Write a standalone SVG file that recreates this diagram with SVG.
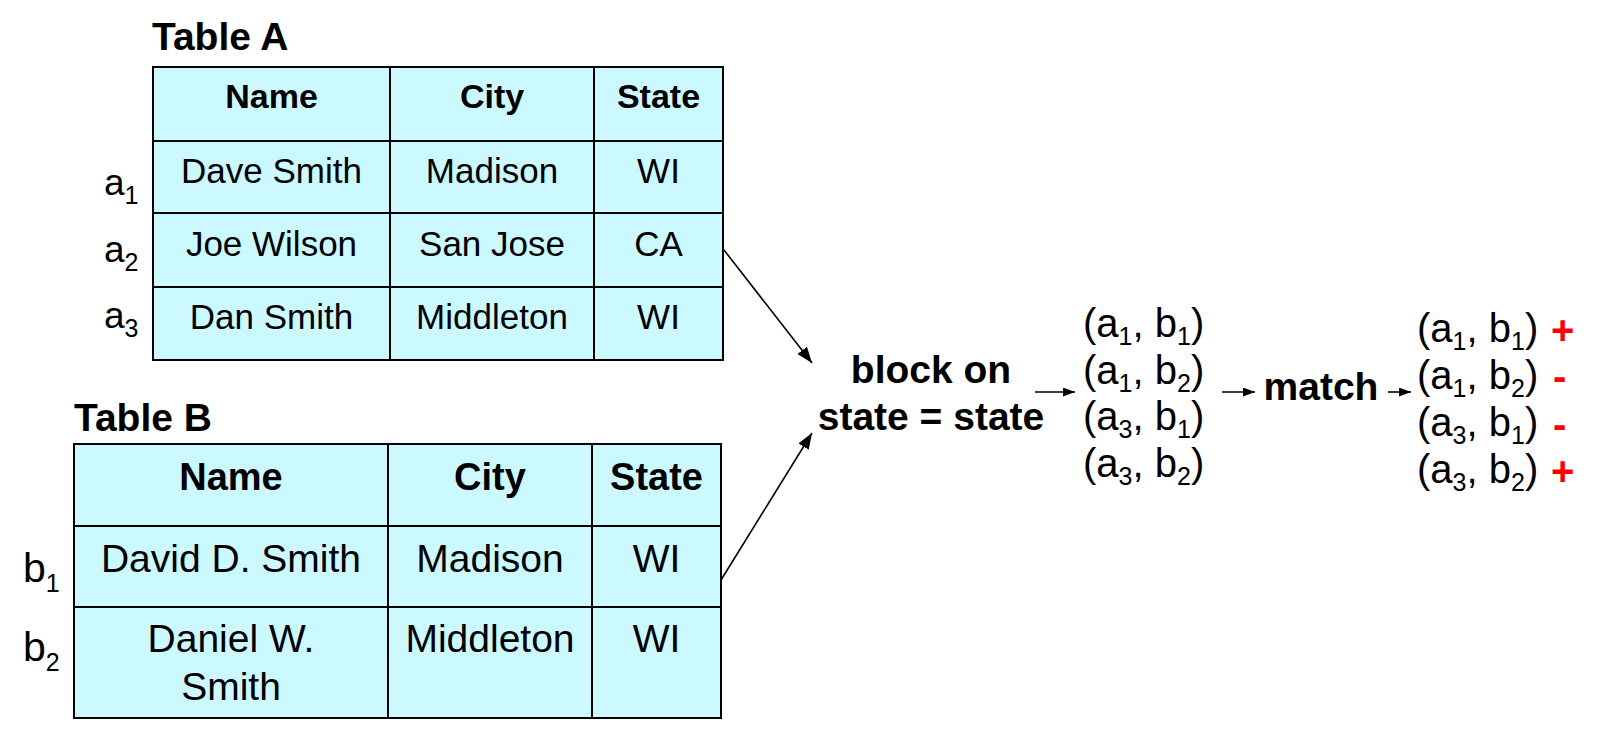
<svg xmlns="http://www.w3.org/2000/svg" width="1600" height="735" viewBox="0 0 1600 735">
<style>
  text { font-family: "Liberation Sans", Arial, sans-serif; fill: #000; }
  .title { font-size: 39px; font-weight: bold; }
  .hdrA { font-size: 34px; font-weight: bold; text-anchor: middle; }
  .cellA { font-size: 35px; text-anchor: middle; }
  .hdrB { font-size: 38px; font-weight: bold; text-anchor: middle; }
  .cellB { font-size: 39px; text-anchor: middle; }
  .lbl { font-size: 37px; }
  .lblB { font-size: 41px; }
  .sub { font-size: 25px; }
  .op { font-size: 39px; font-weight: bold; text-anchor: middle; }
  .pair { font-size: 40px; }
  .sign { font-size: 40px; font-weight: bold; fill: #FF0000; }
  .tbl { fill: #CCF9FF; stroke: #000; stroke-width: 2; }
  .grid { stroke: #000; stroke-width: 2; fill: none; }
  .conn { stroke: #000; stroke-width: 1.6; fill: none; }
</style>
<defs>
  <marker id="ah" markerUnits="userSpaceOnUse" markerWidth="18" markerHeight="14" refX="16" refY="6" orient="auto">
    <path d="M0,0 L16,6 L0,12 Z" fill="#000"/>
  </marker>
  <marker id="ahs" markerUnits="userSpaceOnUse" markerWidth="14" markerHeight="10" refX="12" refY="4.5" orient="auto">
    <path d="M0,0 L12,4.5 L0,9 Z" fill="#000"/>
  </marker>
</defs>

<g id="tableA">
  <text class="title" x="152" y="50">Table A</text>
  <rect class="tbl" x="153" y="67" width="570" height="293"/>
  <path class="grid" d="M153,141 H723 M153,213 H723 M153,287 H723 M390,67 V360 M594,67 V360"/>
  <text class="hdrA" x="271.5" y="108">Name</text>
  <text class="hdrA" x="492" y="108">City</text>
  <text class="hdrA" x="658.5" y="108">State</text>
  <text class="cellA" x="271.5" y="183">Dave Smith</text>
  <text class="cellA" x="492" y="183">Madison</text>
  <text class="cellA" x="658.5" y="183">WI</text>
  <text class="cellA" x="271.5" y="256">Joe Wilson</text>
  <text class="cellA" x="492" y="256">San Jose</text>
  <text class="cellA" x="658.5" y="256">CA</text>
  <text class="cellA" x="271.5" y="329">Dan Smith</text>
  <text class="cellA" x="492" y="329">Middleton</text>
  <text class="cellA" x="658.5" y="329">WI</text>
  <text class="lbl" x="104" y="195">a<tspan class="sub" dy="9">1</tspan></text>
  <text class="lbl" x="104" y="262">a<tspan class="sub" dy="9">2</tspan></text>
  <text class="lbl" x="104" y="328">a<tspan class="sub" dy="9">3</tspan></text>
</g>

<g id="tableB">
  <text class="title" x="74" y="431">Table B</text>
  <rect class="tbl" x="74" y="444" width="647" height="274"/>
  <path class="grid" d="M74,526 H721 M74,607 H721 M388,444 V718 M592,444 V718"/>
  <text class="hdrB" x="231" y="490">Name</text>
  <text class="hdrB" x="490" y="490">City</text>
  <text class="hdrB" x="656.5" y="490">State</text>
  <text class="cellB" x="231" y="572">David D. Smith</text>
  <text class="cellB" x="490" y="572">Madison</text>
  <text class="cellB" x="656.5" y="572">WI</text>
  <text class="cellB" x="231" y="652">Daniel W.</text>
  <text class="cellB" x="231" y="700">Smith</text>
  <text class="cellB" x="490" y="652">Middleton</text>
  <text class="cellB" x="656.5" y="652">WI</text>
  <text class="lblB" x="23" y="582">b<tspan class="sub" dy="10">1</tspan></text>
  <text class="lblB" x="23" y="661">b<tspan class="sub" dy="10">2</tspan></text>
</g>

<g id="block">
  <text class="op" x="931" y="383">block on</text>
  <text class="op" x="931" y="430">state = state</text>
</g>

<g id="candidates">
  <text class="pair" x="1083" y="337">(a<tspan class="sub" dy="8">1</tspan><tspan dy="-8">, b</tspan><tspan class="sub" dy="8">1</tspan><tspan dy="-8">)</tspan></text>
  <text class="pair" x="1083" y="383.5">(a<tspan class="sub" dy="8">1</tspan><tspan dy="-8">, b</tspan><tspan class="sub" dy="8">2</tspan><tspan dy="-8">)</tspan></text>
  <text class="pair" x="1083" y="430">(a<tspan class="sub" dy="8">3</tspan><tspan dy="-8">, b</tspan><tspan class="sub" dy="8">1</tspan><tspan dy="-8">)</tspan></text>
  <text class="pair" x="1083" y="476.5">(a<tspan class="sub" dy="8">3</tspan><tspan dy="-8">, b</tspan><tspan class="sub" dy="8">2</tspan><tspan dy="-8">)</tspan></text>
</g>

<g id="match">
  <text class="op" x="1321" y="400">match</text>
</g>

<g id="results">
  <text class="pair" x="1417" y="342">(a<tspan class="sub" dy="8">1</tspan><tspan dy="-8">, b</tspan><tspan class="sub" dy="8">1</tspan><tspan dy="-8">)</tspan></text>
  <text class="pair" x="1417" y="388.5">(a<tspan class="sub" dy="8">1</tspan><tspan dy="-8">, b</tspan><tspan class="sub" dy="8">2</tspan><tspan dy="-8">)</tspan></text>
  <text class="pair" x="1417" y="436">(a<tspan class="sub" dy="8">3</tspan><tspan dy="-8">, b</tspan><tspan class="sub" dy="8">1</tspan><tspan dy="-8">)</tspan></text>
  <text class="pair" x="1417" y="483">(a<tspan class="sub" dy="8">3</tspan><tspan dy="-8">, b</tspan><tspan class="sub" dy="8">2</tspan><tspan dy="-8">)</tspan></text>
  <text class="sign" x="1551" y="344">+</text>
  <text class="sign" x="1553" y="390">-</text>
  <text class="sign" x="1553" y="438">-</text>
  <text class="sign" x="1551" y="485">+</text>
</g>

<g id="connectors">
  <line class="conn" x1="724" y1="250" x2="812" y2="363" marker-end="url(#ah)"/>
  <line class="conn" x1="721" y1="580" x2="812" y2="433" marker-end="url(#ah)"/>
  <line class="conn" x1="1035" y1="392" x2="1075" y2="392" marker-end="url(#ahs)"/>
  <line class="conn" x1="1222" y1="392" x2="1255" y2="392" marker-end="url(#ahs)"/>
  <line class="conn" x1="1388" y1="392" x2="1411" y2="392" marker-end="url(#ahs)"/>
</g>
</svg>
